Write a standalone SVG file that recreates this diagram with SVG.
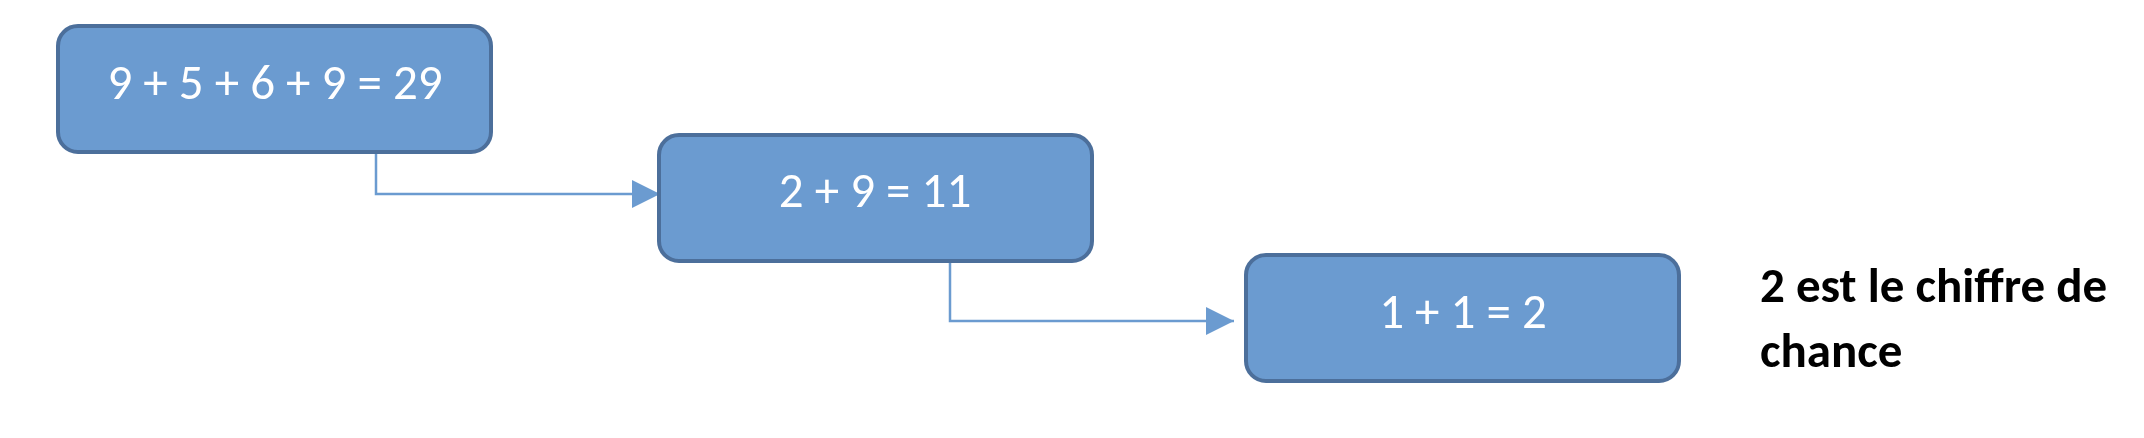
<svg xmlns="http://www.w3.org/2000/svg" width="2144" height="438" viewBox="0 0 2144 438">
<defs>
<style>
.box{fill:#6b9bd0;stroke:#4c6f9b;stroke-width:4}
.lbl{font-family:Carlito,"Liberation Sans Narrow","Liberation Sans",sans-serif;font-size:49px;fill:#ffffff;text-anchor:middle}
.con{fill:none;stroke:#6b9bd0;stroke-width:2.5}
.note{font-family:Carlito,"Liberation Sans Narrow","Liberation Sans",sans-serif;font-size:49px;font-weight:bold;fill:#000000}
</style>
<marker id="arr" markerUnits="userSpaceOnUse" markerWidth="30" markerHeight="30" refX="28" refY="14" orient="auto">
<path d="M0,0 L28,14 L0,28 Z" fill="#6b9bd0"/>
</marker>
</defs>
<rect width="2144" height="438" fill="#ffffff"/>
<g id="connectors">
<path class="con" d="M376,152 V194 H660" marker-end="url(#arr)"/>
<path class="con" d="M950,261 V321 H1234" marker-end="url(#arr)"/>
</g>
<g id="node1">
<rect class="box" x="58" y="26" width="433" height="126" rx="20"/>
<text class="lbl" x="275" y="99">9 + 5 + 6 + 9 = 29</text>
</g>
<g id="node2">
<rect class="box" x="659" y="135" width="433" height="126" rx="20"/>
<text class="lbl" x="875" y="207">2 + 9 = 11</text>
</g>
<g id="node3">
<rect class="box" x="1246" y="255" width="433" height="126" rx="20"/>
<text class="lbl" x="1463" y="328">1 + 1 = 2</text>
</g>
<g id="note">
<text class="note" x="1760" y="302">2 est le chiffre de</text>
<text class="note" x="1760" y="367">chance</text>
</g>
</svg>
